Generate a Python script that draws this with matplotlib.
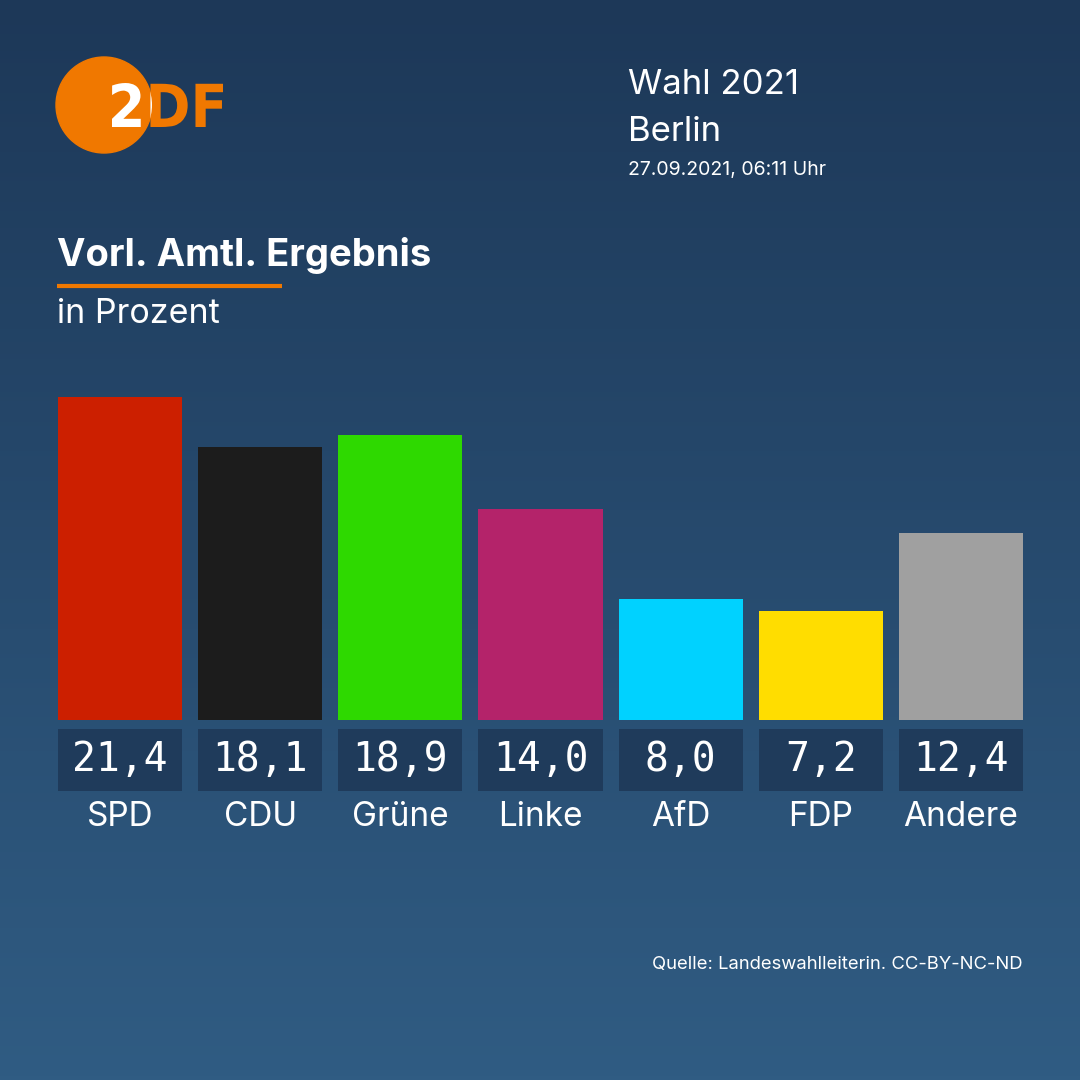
import matplotlib
matplotlib.use("Agg")
import matplotlib.pyplot as plt
import numpy as np
from matplotlib.patches import Circle, PathPatch
from matplotlib.textpath import TextPath
from matplotlib.font_manager import FontProperties
from matplotlib.transforms import Affine2D

parties = ["SPD", "CDU", "Grüne", "Linke", "AfD", "FDP", "Andere"]
values = [21.4, 18.1, 18.9, 14.0, 8.0, 7.2, 12.4]
colors = ["#cc1f00", "#1c1c1c", "#2ed900", "#b4236a", "#00d2ff", "#ffdd00", "#a0a0a0"]
value_labels = ["21,4", "18,1", "18,9", "14,0", "8,0", "7,2", "12,4"]

FONT = ["Inter", "DejaVu Sans"]
plt.rcParams["font.family"] = FONT

W = 1080
fig = plt.figure(figsize=(10.8, 10.8), dpi=100)

# background gradient + header drawn in pixel coords
bg = fig.add_axes([0, 0, 1, 1])
bg.set_xlim(0, W)
bg.set_ylim(W, 0)
bg.axis("off")
top = np.array([0x1d, 0x38, 0x58]) / 255
bot = np.array([0x30, 0x5c, 0x83]) / 255
t = np.linspace(0, 1, 256)[:, None]
grad = (top + (bot - top) * t)[:, None, :]
bg.imshow(grad, extent=[0, W, W, 0], aspect="auto", zorder=0)

# ZDF logo: orange letters, white where they sit on the circle
orange = "#f07800"
bg.add_patch(Circle((104, 105), 48, color=orange, zorder=2))
tp = TextPath((0, 0), "2DF", size=60, prop=FontProperties(family="DejaVu Sans", weight="bold"))
ext = tp.get_extents()
sx = (223 - 112) / ext.width
sy = (127 - 83) / ext.height
tr = Affine2D().translate(-ext.x0, -ext.y0).scale(sx, -sy).translate(112, 127) + bg.transData
bg.add_patch(PathPatch(tp, transform=tr, color=orange, lw=0, zorder=3))
white_logo = PathPatch(tp, transform=tr, color="white", lw=0, zorder=4)
bg.add_patch(white_logo)
white_logo.set_clip_path(Circle((104, 105), 48, transform=bg.transData))

# header texts
bg.text(628, 85, "Wahl 2021", color="white", fontsize=25, va="center", ha="left")
bg.text(628, 132, "Berlin", color="white", fontsize=25, va="center", ha="left")
bg.text(628, 170, "27.09.2021, 06:11 Uhr", color="white", fontsize=14, va="center", ha="left")

bg.text(57, 255, "Vorl. Amtl. Ergebnis", color="white", fontsize=27.5, fontweight="bold",
        va="center", ha="left")
bg.plot([57, 282], [286, 286], color=orange, lw=3, solid_capstyle="butt")
bg.text(57, 314, "in Prozent", color="white", fontsize=24.5, va="center", ha="left")

bg.text(1023, 964, "Quelle: Landeswahlleiterin. CC-BY-NC-ND", color="white", fontsize=13.3,
        va="center", ha="right")

# bar chart
ppu = 15.1  # pixels per percent
ax = fig.add_axes([58 / W, 1 - 720 / W, 965 / W, 340 / W])
ax.set_xlim(-0.4425, 6.4425)
ax.set_ylim(0, 340 / ppu)
ax.axis("off")
x = np.arange(len(parties))
ax.bar(x, values, width=0.885, color=colors, zorder=2)

box_bottom = -71 / ppu
box_h = 62 / ppu
ax.bar(x, [box_h] * len(x), bottom=box_bottom, width=0.885, color="#1f3b5b",
       clip_on=False, zorder=2)
for xi, lab, name in zip(x, value_labels, parties):
    ax.text(xi, -40 / ppu, lab, color="white", fontsize=28.5, family="DejaVu Sans Mono",
            ha="center", va="center", clip_on=False, zorder=3)
    ax.text(xi, -97 / ppu, name, color="white", fontsize=24, ha="center", va="center",
            clip_on=False, zorder=3)

fig.savefig("out.png", dpi=100)
